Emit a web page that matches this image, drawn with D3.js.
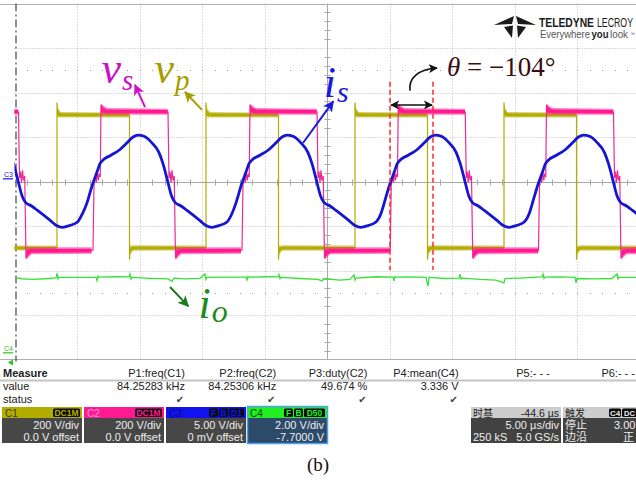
<!DOCTYPE html>
<html>
<head>
<meta charset="utf-8">
<script src="https://cdn.jsdelivr.net/npm/d3@7"></script>
<style>
  html, body { margin: 0; padding: 0; background: #fff; }
  svg { display: block; }
</style>
</head>
<body>
<svg id="scope" width="636" height="482"></svg>
<script>
// ---------------- acquisition data ----------------
// time axis: 10 divisions x 5 µs/div, vertical: 8 divisions
const timeDivUs = 5;
const timeDivs = 10;
const vertDivs = 8;

// C2 (v_s) rising-edge instants (µs) and C1 (v_p) rising-edge instants (µs)
const vsRise = [-5.04, 6.92, 18.84, 30.70, 42.56, 54.40];
const vpRise = [-8.52, 3.40, 15.32, 27.24, 39.16, 51.08];

// one switching cycle of C1, v_p [µs after rising edge, V]
const vpCycle = [[0, -296], [0, 355], [0.06, 300], [0.2, 296], [5.80, 296], [5.80, -352], [5.86, -300], [6.0, -297], [11.9, -297]];
// noise envelope of the C1 plateaus [µs, Vlow, Vhigh]
const vpHighBand = [[0.04, 286, 334], [0.3, 288, 312], [5.78, 288, 310]];
const vpLowBand = [[5.82, -330, -288], [6.1, -311, -287], [11.88, -310, -288]];

// one switching cycle of C2, v_s [µs after rising edge, V]
const vsCycle = [[-0.64, -309], [-0.60, -160], [-0.56, -15], [-0.46, 25], [-0.38, -5], [-0.30, 45], [-0.22, 5], [-0.14, 35],
                 [-0.06, 20], [0.0, 345], [0.2, 322], [0.6, 314], [5.36, 312], [5.40, 160], [5.44, 15], [5.52, 45],
                 [5.60, -5], [5.68, 50], [5.76, 5], [5.86, 25], [5.96, -345], [6.16, -322], [6.56, -312], [11.20, -309]];
const vsHighBand = [[0.0, 300, 348], [0.5, 300, 330], [5.34, 300, 327]];
const vsLowBand = [[5.98, -352, -297], [6.4, -327, -296], [11.2, -325, -296]];

// one cycle of C3, i_s [µs after v_s rising edge, A]
const isCycle = [[-1.12, -2.4], [-0.72, -0.5], [-0.32, 1.07], [-0.08, 2.0], [0.16, 2.42], [0.80, 2.95], [1.52, 3.6],
                 [2.08, 4.35], [2.56, 5.0], [2.96, 5.22], [3.44, 5.08], [4.0, 4.45], [4.64, 3.25], [4.96, 2.0],
                 [5.32, 0.1], [5.64, -1.6], [5.92, -2.35], [6.40, -2.75], [6.88, -3.25], [7.92, -4.4], [8.40, -4.95],
                 [8.88, -5.15], [9.44, -4.95], [10.08, -4.55], [10.48, -3.6]];

// C4, i_o output current [µs, A]
const ioTrace = [[0, 3.39], [0.6, 3.33], [1.4, 3.30], [2.44, 3.33], [3.32, 3.37], [3.40, 3.57], [3.48, 3.32], [3.56, 3.39],
  [4.84, 3.39], [6.04, 3.39], [6.52, 3.39], [6.60, 3.25], [6.68, 3.45], [6.76, 3.40], [8.04, 3.42], [9.16, 3.41],
  [9.24, 3.54], [9.32, 3.32], [9.40, 3.39], [10.84, 3.35], [12.28, 3.32], [12.60, 3.21], [12.76, 3.36], [13.64, 3.32],
  [14.84, 3.35], [15.24, 3.54], [15.32, 3.30], [15.40, 3.39], [16.84, 3.40], [18.52, 3.40], [18.60, 3.28], [18.68, 3.43],
  [18.76, 3.40], [20.04, 3.42], [21.08, 3.41], [21.16, 3.52], [21.24, 3.33], [21.32, 3.39], [22.84, 3.34], [24.28, 3.30],
  [24.60, 3.23], [24.76, 3.34], [26.04, 3.27], [26.84, 3.30], [27.16, 3.50], [27.24, 3.27], [27.32, 3.36], [28.92, 3.42],
  [30.28, 3.40], [30.36, 3.23], [30.44, 3.43], [30.52, 3.40], [31.64, 3.41], [32.92, 3.39], [33.08, 3.00], [33.16, 3.39],
  [34.44, 3.34], [35.56, 3.36], [35.64, 3.54], [35.72, 3.32], [35.80, 3.36], [37.24, 3.30], [38.52, 3.27], [39.16, 3.14],
  [39.24, 3.34], [40.44, 3.36], [42.20, 3.41], [42.28, 3.54], [42.36, 3.34], [42.44, 3.40], [43.64, 3.41], [44.84, 3.39],
  [44.92, 3.14], [45.00, 3.34], [46.44, 3.32], [47.80, 3.34], [48.20, 3.54], [48.28, 3.32], [48.36, 3.39], [49.72, 3.39]];

// measurement table
const measNames = ["P1:freq(C1)", "P2:freq(C2)", "P3:duty(C2)", "P4:mean(C4)", "P5:- - -", "P6:- - -"];
const measValues = ["84.25283 kHz", "84.25306 kHz", "49.674 %", "3.336 V", "", ""];
const measStatus = [true, true, true, true, false, false];

// channel descriptors
const chNames = ["C1", "C2", "C3", "C4"];
const chColors = ["#b3ac00", "#ff1a92", "#1212ee", "#22ee22"];
const chTitleColors = ["#3a3a10", "#ff9ed2", "#0a0a7a", "#0b3d0b"];
const chBadges = [["DC1M"], ["DC1M"], ["F", "B", "D1"], ["F", "B", "D50"]];
const chScales = ["200 V/div", "200 V/div", "5.00 V/div", "2.00 V/div"];
const chOffsets = ["0.0 V offset", "0.0 V offset", "0 mV offset", "-7.7000 V"];

// channel gain/offset: value -> screen divisions
const toDiv = {
  C1: v => v / 200,
  C2: v => v / 200,
  C3: a => a / 5,
  C4: a => (a - 7.7) / 2
};

// ---------------- scales ----------------
const x = d3.scaleLinear().domain([0, timeDivs * timeDivUs]).range([14.5, 639.5]);
const y = d3.scaleLinear().domain([-vertDivs / 2, vertDivs / 2]).range([359.5, 3.5]);

const svg = d3.select("#scope");
const defs = svg.append("defs");
defs.append("clipPath").attr("id", "screen")
  .append("rect").attr("x", 14.5).attr("y", 3.5).attr("width", 636 - 14.5).attr("height", 356);

function marker(id, color, size) {
  defs.append("marker").attr("id", id)
    .attr("viewBox", "0 0 10 10").attr("refX", 9).attr("refY", 5)
    .attr("markerUnits", "userSpaceOnUse")
    .attr("markerWidth", size).attr("markerHeight", size)
    .attr("orient", "auto-start-reverse")
    .append("path").attr("d", "M0,0 L10,5 L0,10 L2.5,5 Z").attr("fill", color);
}
marker("arrM", "#d010c8", 11);
marker("arrO", "#a59e00", 11);
marker("arrB", "#1a1ae0", 11);
marker("arrG", "#1d7d1d", 11);
marker("arrK", "#111", 9);

// ---------------- graticule ----------------
const grid = svg.append("g");
const snap = v => Math.round(v) + 0.5;

d3.range(1, timeDivs).forEach(i => {
  const xx = snap(x(i * timeDivUs));
  grid.append("line").attr("x1", xx).attr("x2", xx).attr("y1", y(4)).attr("y2", y(-4))
    .attr("stroke", i === 5 ? "#a8a8a8" : "#b9b9b9")
    .attr("stroke-dasharray", i === 5 ? null : "1,2");
});
d3.range(-3, 4).forEach(j => {
  const yy = snap(y(j));
  grid.append("line").attr("x1", x(0)).attr("x2", 636).attr("y1", yy).attr("y2", yy)
    .attr("stroke", j === 0 ? "#a8a8a8" : "#b9b9b9")
    .attr("stroke-dasharray", j === 0 ? null : "1,2");
});
// top / bottom frame
[4, -4].forEach(j => {
  grid.append("line").attr("x1", 0).attr("x2", 636).attr("y1", snap(y(j)) - (j > 0 ? 0 : 1)).attr("y2", snap(y(j)) - (j > 0 ? 0 : 1))
    .attr("stroke", "#b0b0b0").attr("stroke-width", 1.2);
});
// minor ticks on the centre cross
d3.range(-20, 21).forEach(k => {
  if (k % 5 === 0) return;
  const yy = snap(y(k / 5));
  grid.append("line").attr("x1", snap(x(25)) - 3).attr("x2", snap(x(25)) + 3).attr("y1", yy).attr("y2", yy)
    .attr("stroke", "#a8a8a8");
});
d3.range(1, 50).forEach(k => {
  if (k % 5 === 0) return;
  const xx = snap(x(k));
  grid.append("line").attr("x1", xx).attr("x2", xx).attr("y1", snap(y(0)) - 3).attr("y2", snap(y(0)) + 3)
    .attr("stroke", "#a8a8a8");
});
// dotted rows at +/- 2.5 div
[2.5, -2.5].forEach(j => {
  d3.range(1, 50).forEach(k => {
    grid.append("rect").attr("x", Math.round(x(k))).attr("y", Math.round(y(j))).attr("width", 1).attr("height", 1)
      .attr("fill", "#9a9a9a");
  });
});
// trigger-position marker on the left edge
grid.append("line").attr("x1", 16).attr("x2", 16).attr("y1", y(4)).attr("y2", y(-4) + 2)
  .attr("stroke", "#222").attr("stroke-width", 1).attr("stroke-dasharray", "8,3,2,3");

// ---------------- traces ----------------
const traces = svg.append("g").attr("clip-path", "url(#screen)");
const expand = (starts, cycle) => starts.flatMap(t0 => cycle.map(([dt, v]) => [t0 + dt, v]));
const lineFor = (ch, curve) => d3.line()
  .x(d => x(d[0])).y(d => y(toDiv[ch](d[1]))).curve(curve || d3.curveLinear);
const areaFor = ch => d3.area()
  .x(d => x(d[0])).y0(d => y(toDiv[ch](d[1]))).y1(d => y(toDiv[ch](d[2])));

function drawBands(ch, starts, bands, color) {
  starts.forEach(t0 => {
    bands.forEach(b => {
      const shifted = b.map(([dt, lo, hi]) => [t0 + dt, lo, hi]);
      traces.append("path").attr("d", areaFor(ch)(shifted)).attr("fill", color).attr("opacity", 0.55);
      const core = b.map(([dt, lo, hi]) => [t0 + dt, lo + (hi - lo) * 0.22, hi - (hi - lo) * 0.22]);
      traces.append("path").attr("d", areaFor(ch)(core)).attr("fill", color);
    });
  });
}

// C1  v_p
traces.append("path").attr("d", lineFor("C1")(expand(vpRise, vpCycle)))
  .attr("fill", "none").attr("stroke", chColors[0]).attr("stroke-width", 1.2);
drawBands("C1", vpRise, [vpHighBand, vpLowBand], chColors[0]);

// C2  v_s
traces.append("path").attr("d", lineFor("C2")(expand(vsRise, vsCycle)))
  .attr("fill", "none").attr("stroke", "#ec2a96").attr("stroke-width", 1.2);
drawBands("C2", vsRise, [vsHighBand, vsLowBand], chColors[1]);

// C3  i_s
traces.append("path").attr("d", lineFor("C3", d3.curveMonotoneX)(expand(vsRise, isCycle)))
  .attr("fill", "none").attr("stroke", "#1616d2").attr("stroke-width", 2.8).attr("stroke-linejoin", "round");

// C4  i_o
traces.append("path").attr("d", lineFor("C4")(ioTrace))
  .attr("fill", "none").attr("stroke", "#36e236").attr("stroke-width", 1.3);

// channel ground markers on the left
const marks = svg.append("g").style("font-family", "'Liberation Sans', Arial, sans-serif").style("font-size", "7px");
marks.append("text").attr("x", 4).attr("y", y(0.1)).attr("fill", "#1616d2").text("C3");
marks.append("line").attr("x1", 3).attr("x2", 13).attr("y1", y(0.06)).attr("y2", y(0.06)).attr("stroke", "#1616d2").attr("stroke-width", 1.2);
marks.append("text").attr("x", 4).attr("y", y(toDiv.C4(0)) - 2).attr("fill", "#2ac42a").text("C4");
marks.append("line").attr("x1", 3).attr("x2", 13).attr("y1", y(toDiv.C4(0))).attr("y2", y(toDiv.C4(0))).attr("stroke", "#2ac42a").attr("stroke-width", 1.2);
marks.append("path").attr("d", `M8,${y(-4) + 3} l5,-3 v6 Z`).attr("fill", "#2ac42a");

// ---------------- annotations ----------------
const ann = svg.append("g");
const serif = "'Liberation Serif', 'DejaVu Serif', serif";
function mathLabel(t, d, main, sub, color, size, subSize, subDy) {
  const tx = ann.append("text").attr("x", x(t)).attr("y", y(d)).attr("fill", color)
    .style("font-family", serif).style("font-style", "italic").style("font-size", size + "px");
  tx.append("tspan").text(main);
  tx.append("tspan").attr("dy", subDy).attr("dx", 1).style("font-size", subSize + "px").text(sub);
}
function arrow(t0, d0, t1, d1, color, id, w) {
  ann.append("line").attr("x1", x(t0)).attr("y1", y(d0)).attr("x2", x(t1)).attr("y2", y(d1))
    .attr("stroke", color).attr("stroke-width", w || 2).attr("marker-end", `url(#${id})`);
}

mathLabel(6.95, 2.21, "v", "s", "#cc10c8", 44, 29, 7);
arrow(10.44, 1.67, 9.64, 2.17, "#d010c8", "arrM");

mathLabel(11.2, 2.21, "v", "p", "#a59e00", 44, 29, 7);
arrow(15.0, 1.61, 13.64, 2.01, "#a59e00", "arrO");

mathLabel(24.74, 1.9, "i", "s", "#1a1ae0", 44, 30, 5);
arrow(23.08, 0.865, 25.5, 1.8, "#1a1ae0", "arrB");

mathLabel(14.72, -3.07, "i", "o", "#1d8a1d", 44, 32, 4);
arrow(12.44, -2.37, 13.9, -2.8, "#1d7d1d", "arrG");

// phase-shift markers
const phaseT = [30.04, 33.48];
phaseT.forEach(t => {
  ann.append("line").attr("x1", x(t)).attr("x2", x(t)).attr("y1", y(2.24)).attr("y2", y(-1.99))
    .attr("stroke", "#ff2a2a").attr("stroke-width", 1.5).attr("stroke-dasharray", "5,3");
});
ann.append("line").attr("x1", x(phaseT[0]) + 1).attr("x2", x(phaseT[1]) - 1).attr("y1", y(1.72)).attr("y2", y(1.72))
  .attr("stroke", "#111").attr("stroke-width", 1.6)
  .attr("marker-start", "url(#arrK)").attr("marker-end", "url(#arrK)");
ann.append("path")
  .attr("d", `M${x(31.64)},${y(2.04)} C${x(31.5)},${y(2.33)} ${x(32.3)},${y(2.52)} ${x(33.8)},${y(2.55)}`)
  .attr("fill", "none").attr("stroke", "#111").attr("stroke-width", 1.6).attr("marker-end", "url(#arrK)");
const th = ann.append("text").attr("x", x(34.6)).attr("y", y(2.36)).attr("fill", "#3a0c0c")
  .style("font-family", serif).style("font-size", "27px");
th.append("tspan").style("font-style", "italic").text("θ");
th.append("tspan").text(" = −104°");

// ---------------- vendor logo ----------------
const narrow = "'Liberation Sans Narrow', 'Liberation Sans', Arial, sans-serif";
const logo = svg.append("g").style("font-family", narrow);
logo.append("path").attr("d", "M494,25 L514,16 L512,24 Z M536,25 L516,16 L518,24 Z M504,27 L513,25.5 L512,38 Z M526,27 L517,25.5 L518,38 Z")
  .attr("fill", "#1a1a1a");
logo.append("text").attr("x", 539).attr("y", 27).attr("fill", "#1a1a1a").style("font-size", "12.5px").style("font-weight", "bold")
  .attr("textLength", 55).attr("lengthAdjust", "spacingAndGlyphs").text("TELEDYNE");
logo.append("text").attr("x", 597).attr("y", 27).attr("fill", "#1a1a1a").style("font-size", "12px")
  .attr("textLength", 36).attr("lengthAdjust", "spacingAndGlyphs").text("LECROY");
logo.append("text").attr("x", 540).attr("y", 38).attr("fill", "#555").style("font-size", "11px")
  .attr("textLength", 50).attr("lengthAdjust", "spacingAndGlyphs").text("Everywhere");
logo.append("text").attr("x", 591.5).attr("y", 38).attr("fill", "#222").style("font-size", "11px").style("font-weight", "bold")
  .attr("textLength", 17).attr("lengthAdjust", "spacingAndGlyphs").text("you");
logo.append("text").attr("x", 610).attr("y", 38).attr("fill", "#555").style("font-size", "11px")
  .attr("textLength", 18).attr("lengthAdjust", "spacingAndGlyphs").text("look");
logo.append("text").attr("x", 630).attr("y", 36).attr("fill", "#555").style("font-size", "5px").text("™");

// ---------------- measurement table ----------------
const sans = "'Liberation Sans', Arial, sans-serif";
const meas = svg.append("g").style("font-family", sans).style("font-size", "11px").attr("fill", "#222");
meas.append("text").attr("x", 3).attr("y", 377).style("font-weight", "bold").text("Measure");
meas.append("text").attr("x", 3).attr("y", 390).text("value");
meas.append("text").attr("x", 3).attr("y", 403).text("status");
meas.append("line").attr("x1", 0).attr("x2", 636).attr("y1", 380.5).attr("y2", 380.5).attr("stroke", "#c4c4c4").attr("stroke-width", 2);
measNames.forEach((n, i) => {
  const right = Math.min(185 + 91.2 * i, 635);
  meas.append("text").attr("x", right).attr("y", 377).attr("text-anchor", "end").text(n);
  if (measValues[i]) meas.append("text").attr("x", right).attr("y", 390).attr("text-anchor", "end").text(measValues[i]);
  if (measStatus[i]) meas.append("text").attr("x", right - 5).attr("y", 403).attr("text-anchor", "middle")
    .attr("fill", "#444").style("font-family", "'DejaVu Sans', sans-serif").style("font-size", "10px").text("✔");
});

// ---------------- channel descriptor boxes ----------------
const boxX = [2, 84, 166, 247];
const boxW = 80;
const panel = svg.append("g").style("font-family", sans);
chNames.forEach((name, i) => {
  const bx = boxX[i];
  const sel = i === 3;
  panel.append("rect").attr("x", bx).attr("y", 418).attr("width", boxW).attr("height", 25)
    .attr("fill", sel ? "#2d4b68" : "#474747");
  panel.append("rect").attr("x", bx).attr("y", 407).attr("width", boxW).attr("height", 11).attr("fill", chColors[i]);
  if (sel) panel.append("rect").attr("x", bx + 0.5).attr("y", 406.5).attr("width", boxW).attr("height", 37)
    .attr("fill", "none").attr("stroke", "#4aa3f0").attr("stroke-width", 1.5);
  panel.append("text").attr("x", bx + 3).attr("y", 416.5).attr("fill", chTitleColors[i]).style("font-size", "10px").text(name);
  // badges, right aligned in the title strip
  let right = bx + boxW - 2;
  chBadges[i].slice().reverse().forEach(b => {
    const w = b.length * 6 + 3;
    panel.append("rect").attr("x", right - w).attr("y", 408.5).attr("width", w).attr("height", 8.5).attr("rx", 1.5).attr("fill", "#0c0c0c");
    panel.append("text").attr("x", right - w / 2).attr("y", 416).attr("text-anchor", "middle")
      .attr("fill", chColors[i]).style("font-size", "8.5px").style("font-weight", "bold").text(b);
    right -= w + 1;
  });
  panel.append("text").attr("x", bx + boxW - 3).attr("y", 429).attr("text-anchor", "end")
    .attr("fill", "#eee").style("font-size", "11px").text(chScales[i]);
  panel.append("text").attr("x", bx + boxW - 3).attr("y", 440.5).attr("text-anchor", "end")
    .attr("fill", "#eee").style("font-size", "11px").text(chOffsets[i]);
});

// timebase and trigger boxes
const cjk = "'Noto Sans CJK SC', 'Liberation Sans', sans-serif";
function infoBox(bx, w) {
  panel.append("rect").attr("x", bx).attr("y", 407).attr("width", w).attr("height", 11).attr("fill", "#cdcdcd");
  panel.append("rect").attr("x", bx).attr("y", 418).attr("width", w).attr("height", 25).attr("fill", "#424242");
}
infoBox(471, 90);
panel.append("text").attr("x", 473).attr("y", 416.5).attr("fill", "#222").style("font-family", cjk).style("font-size", "10px").text("时基");
panel.append("text").attr("x", 559).attr("y", 416.5).attr("text-anchor", "end").attr("fill", "#222").style("font-size", "10.5px").text("-44.6 µs");
panel.append("text").attr("x", 559).attr("y", 429).attr("text-anchor", "end").attr("fill", "#eee").style("font-size", "11px").text("5.00 µs/div");
panel.append("text").attr("x", 473).attr("y", 440.5).attr("fill", "#eee").style("font-size", "11px").text("250 kS");
panel.append("text").attr("x", 559).attr("y", 440.5).attr("text-anchor", "end").attr("fill", "#eee").style("font-size", "11px").text("5.0 GS/s");

infoBox(563, 80);
panel.append("text").attr("x", 565).attr("y", 416.5).attr("fill", "#222").style("font-family", cjk).style("font-size", "10px").text("触发");
panel.append("rect").attr("x", 609).attr("y", 408.5).attr("width", 12).attr("height", 8.5).attr("rx", 1.5).attr("fill", "#0c0c0c");
panel.append("text").attr("x", 615).attr("y", 416).attr("text-anchor", "middle").attr("fill", "#eee").style("font-size", "8px").style("font-weight", "bold").text("C4");
panel.append("rect").attr("x", 622).attr("y", 408.5).attr("width", 16).attr("height", 8.5).attr("rx", 1.5).attr("fill", "#0c0c0c");
panel.append("text").attr("x", 624).attr("y", 416).attr("fill", "#eee").style("font-size", "7.5px").style("font-weight", "bold").text("DC");
panel.append("text").attr("x", 565).attr("y", 429).attr("fill", "#eee").style("font-family", cjk).style("font-size", "11px").text("停止");
panel.append("text").attr("x", 614).attr("y", 429).attr("fill", "#eee").style("font-size", "11px").text("3.00");
panel.append("text").attr("x", 565).attr("y", 440.5).attr("fill", "#eee").style("font-family", cjk).style("font-size", "11px").text("边沿");
panel.append("text").attr("x", 623).attr("y", 440.5).attr("fill", "#eee").style("font-family", cjk).style("font-size", "11px").text("正");

// ---------------- caption ----------------
svg.append("text").attr("x", 318).attr("y", 471).attr("text-anchor", "middle").attr("fill", "#111")
  .style("font-family", serif).style("font-size", "19px").text("(b)");
</script>
</body>
</html>
